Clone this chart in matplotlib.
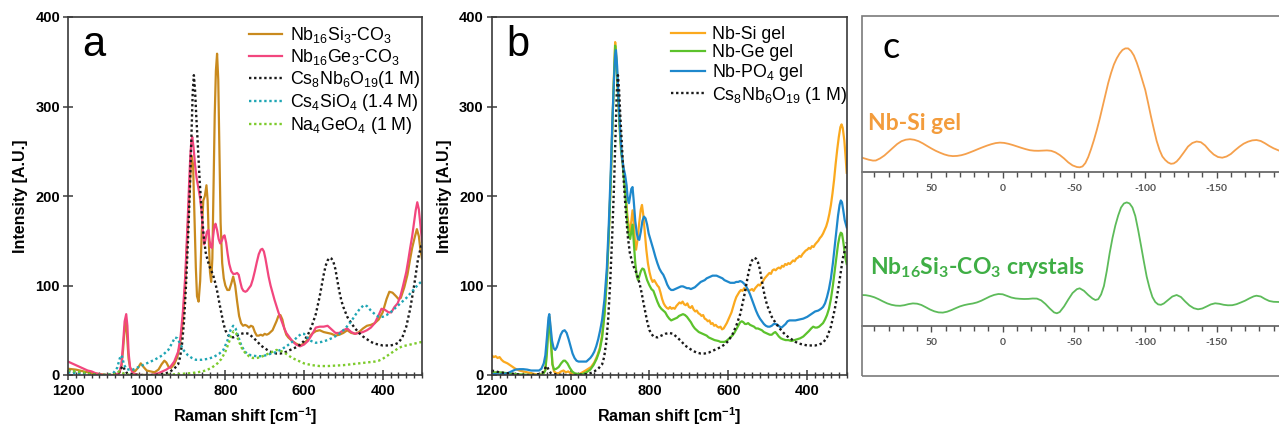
import matplotlib
matplotlib.use("Agg")
import matplotlib.pyplot as plt
from matplotlib.patches import Rectangle
from matplotlib.ticker import MultipleLocator, FixedLocator

plt.rcParams["font.family"] = ["Liberation Sans", "DejaVu Sans"]
plt.rcParams["mathtext.default"] = "regular"
plt.rcParams["axes.unicode_minus"] = False

# ---------------- Panel a: crystals vs. reference solutions ----------------
si_co3_x = [1200,1180,1160,1140,1120,1100,1080,1070,1064,1060,1056,1053,1050,1046,1042,1036,1030,1022,1015,1008,
            1000,990,980,970,962,955,950,944,938,930,922,915,908,902,896,890,886,882,878,875,872,868,864,860,856,
            852,848,845,842,839,836,833,830,827,824,821,818,815,812,808,804,800,795,790,785,780,775,770,765,760,
            755,750,745,740,735,730,725,720,715,710,705,700,695,690,685,680,675,670,665,660,655,650,645,640,635,
            630,620,610,600,590,580,570,560,550,540,530,520,510,500,490,480,470,460,450,440,430,420,410,400,390,
            383,375,366,360,354,345,337,330,325,319,313,308,304,300]
si_co3_y = [7,6,4,2,1,0,0,2,10,28,52,60,45,18,8,5,4,8,13,9,
            5,4,3,6,12,16,14,9,8,12,20,35,60,100,160,215,245,235,170,120,88,82,105,160,195,
            200,212,195,150,115,104,130,210,290,340,359,330,250,170,125,108,100,95,95,102,110,100,82,66,58,
            55,56,55,53,55,54,48,44,44,45,44,46,45,46,48,50,55,60,66,67,62,52,45,42,40,
            38,35,33,35,40,46,49,50,48,47,46,44,45,47,50,47,46,48,52,55,56,58,62,70,85,
            93,92,88,85,86,98,112,130,142,153,163,155,140,130]

ge_co3_x = [1200,1190,1180,1170,1160,1150,1140,1130,1120,1110,1080,1070,1064,1060,1056,1052,1049,1046,1042,1036,
            1030,1020,1000,990,980,970,960,950,940,930,920,914,908,902,896,892,889,886,884,881,877,873,869,865,
            861,857,854,851,847,843,840,837,834,831,828,825,821,817,813,809,805,802,798,794,790,785,780,775,770,
            766,762,758,754,749,745,740,735,730,725,720,715,710,706,702,698,694,690,685,680,675,670,665,660,655,
            650,645,640,635,630,620,610,600,590,580,570,560,550,540,530,520,510,500,490,480,470,460,450,440,430,
            420,410,403,395,385,378,370,362,355,348,340,335,330,325,320,316,312,308,304,300]
ge_co3_y = [15,13,11,9,7,5,4,2,1,0,0,2,12,35,60,68,55,25,8,3,
            1,0,0,0,1,2,4,6,9,15,26,42,70,110,170,215,245,263,266,255,235,220,210,200,
            185,160,146,150,160,162,150,143,142,155,166,169,162,152,147,150,155,156,148,135,124,116,113,113,114,
            112,104,97,94,93,94,97,100,107,116,126,135,140,141,138,130,120,110,100,92,84,77,70,64,58,
            52,47,44,41,38,34,32,34,38,45,53,54,54,55,51,47,47,50,52,48,46,47,48,50,53,
            58,67,74,73,70,70,76,80,88,100,115,128,142,155,171,184,193,185,168,150]

cs8nb6_x = [1200,1180,1160,1140,1120,1100,1080,1070,1064,1060,1056,1050,1040,1020,1000,980,960,950,940,930,
            920,915,910,905,900,895,890,886,883,880,877,874,870,865,860,855,850,845,840,835,830,825,820,815,810,
            805,800,795,790,780,770,760,750,740,730,720,710,700,690,680,670,660,650,640,630,620,610,600,590,580,
            570,560,555,550,545,540,535,530,525,520,515,510,505,500,490,480,470,460,450,440,430,420,410,400,390,
            380,370,360,350,340,330,320,310,300]
cs8nb6_y = [5,3,2,1,0,0,1,3,8,10,6,2,1,0,0,0,1,2,4,7,
            12,20,35,60,100,150,210,270,315,335,318,290,258,215,182,155,137,128,121,116,110,102,92,80,69,
            58,50,46,43,42,44,46,47,46,42,38,33,30,27,25,24,24,25,27,29,31,34,38,45,55,
            68,88,100,112,122,128,131,130,126,118,105,93,83,76,65,58,52,47,43,40,37,35,34,33,33,
            33,34,36,42,54,74,100,130,148]

cs4sio4_x = [1200,1180,1160,1140,1100,1085,1075,1070,1066,1062,1058,1052,1045,1035,1020,1000,980,960,945,935,
             928,922,915,905,895,885,875,860,845,830,815,805,795,787,780,774,768,760,752,745,735,720,705,690,675,
             660,645,630,618,607,600,592,582,570,555,540,525,510,495,480,468,458,448,440,430,420,410,400,390,380,
             370,360,350,340,330,320,310,300]
cs4sio4_y = [3,2,1,0,0,2,8,16,22,20,12,7,6,6,9,13,17,22,28,36,
             42,41,35,27,22,19,17,17,18,20,24,28,38,50,55,52,44,34,27,24,22,21,21,23,25,
             28,32,37,42,46,46,42,38,36,37,39,42,46,52,60,68,74,78,77,72,68,65,65,67,70,
             74,78,82,86,91,96,101,105]

na4geo4_x = [1200,1180,1160,1140,1120,1100,1080,1070,1065,1055,1040,1000,960,920,890,870,850,835,820,810,
             800,792,785,779,773,766,758,750,740,730,720,710,700,690,680,670,660,650,640,630,620,610,600,590,580,
             570,560,540,520,500,480,460,440,420,410,400,390,380,370,360,350,340,330,320,310,300]
na4geo4_y = [5,4,3,1,0,0,1,4,3,1,0,0,0,1,2,3,5,8,13,18,
             26,35,44,49,47,38,30,25,21,19,19,20,22,24,26,28,27,25,22,19,17,15,13,12,11,
             10.5,10,10,10.5,11,12,13,14,15,16,18,21,24,27,30,32,33,34,35,36,37]

# ---------------- Panel b: gels ----------------
nbsi_gel_x = [1200,1195,1190,1185,1180,1175,1170,1165,1160,1150,1140,1130,1120,1110,1100,1090,1080,1070,1064,1060,
              1056,1053,1050,1046,1042,1036,1030,1024,1018,1012,1006,1000,992,985,978,970,962,955,948,940,932,926,
              920,914,908,903,898,894,890,887,884,880,876,872,868,864,860,856,852,849,846,843,840,837,834,830,826,
              822,819,816,812,808,804,800,796,792,788,784,780,776,772,768,764,760,756,752,748,744,740,736,732,728,
              724,720,716,712,708,704,700,696,692,688,684,680,676,672,668,664,660,656,652,648,644,640,636,632,628,
              624,620,616,612,608,604,600,596,592,588,584,580,576,572,568,564,560,556,552,548,544,540,536,532,528,
              524,520,516,512,508,504,500,496,492,488,484,480,476,472,468,464,460,456,452,448,444,440,436,432,428,
              424,420,416,412,408,404,400,396,392,388,384,380,376,372,368,364,360,356,352,348,344,340,336,332,328,
              324,320,316,313,310,306,303,300]
nbsi_gel_y = [22,20,21,19,20,17,15,14,13,10,7,5,4,3,2,1,0,1,6,30,
              60,65,40,12,4,2,2,4,5,3,4,2,1,0,1,3,5,7,9,14,22,30,
              45,70,110,160,220,280,335,372,355,320,285,255,240,220,200,178,165,160,172,184,172,150,140,152,170,
              185,190,180,160,140,125,115,108,104,106,103,100,98,92,85,80,77,75,74,76,74,75,74,77,79,
              81,80,82,79,78,80,76,75,77,73,71,72,69,68,66,67,63,62,60,61,57,58,55,56,54,
              53,54,51,52,55,58,62,66,70,76,82,87,90,93,95,94,97,95,96,94,95,96,94,97,99,
              101,100,103,105,108,110,112,114,113,117,118,117,119,120,119,122,121,124,123,125,124,126,128,127,130,
              131,133,132,135,137,139,140,142,141,144,143,146,148,150,153,155,158,162,166,172,180,190,203,218,236,
              252,266,277,280,276,262,245,226]

nbge_gel_x = [1200,1180,1160,1140,1120,1100,1080,1070,1064,1060,1056,1053,1050,1046,1042,1036,1030,1024,1018,1014,
              1008,1002,996,990,980,970,960,950,942,934,926,920,914,908,903,898,894,890,887,884,880,876,872,868,864,
              860,856,852,849,846,843,840,836,832,829,826,822,818,814,810,806,800,795,790,785,780,775,770,765,760,
              755,750,745,740,735,730,725,720,715,710,705,700,695,690,685,680,675,670,665,660,655,650,645,640,635,
              630,625,620,615,610,605,600,595,590,585,580,575,570,566,562,558,554,550,545,540,535,530,525,520,515,
              510,505,500,495,490,485,481,477,472,467,462,455,448,440,432,425,418,410,403,396,390,385,380,375,370,
              365,360,355,350,345,340,335,330,326,322,318,315,312,309,306,303,300]
nbge_gel_y = [3,3,2,1,0.5,0,0,1,5,25,55,60,38,12,6,7,9,13,16,16,
              13,8,4,2,1,1,3,6,11,18,28,42,68,108,158,218,278,332,368,352,315,278,250,236,215,
              195,170,155,152,160,168,150,125,110,106,110,116,119,118,112,106,100,96,94,88,82,77,74,72,70,
              66,63,61,62,63,64,66,67,68,67,65,62,59,55,52,50,48,47,46,45,44,42,41,40,39,
              38.5,38,37,37,37,38,40,42,44,47,51,55,59,60,59,57,57,58,56,55,54,52,52,51,50,
              48,47,46,45,45,47,48,46,43,41,40,39,39,38,39,40,41,43,46,49,52,54,53,53,54,
              56,58,62,67,74,85,100,118,133,146,155,159,158,150,140,130,124]

nbpo4_gel_x = [1200,1190,1180,1170,1160,1150,1140,1130,1120,1110,1100,1090,1080,1074,1068,1064,1060,1056,1054,1051,
               1047,1043,1039,1035,1030,1025,1020,1015,1010,1005,1000,995,990,985,980,970,960,955,950,945,940,935,
               930,925,920,914,908,903,898,894,890,887,885,882,878,874,870,866,862,858,855,852,849,846,843,840,836,
               832,829,826,822,818,814,810,806,802,798,794,790,785,780,775,770,765,760,755,750,745,740,735,730,725,
               720,715,710,705,700,695,690,685,680,675,670,665,660,655,650,645,640,635,630,625,620,615,610,605,600,
               595,590,585,580,575,570,565,560,555,550,545,540,535,530,525,520,515,510,505,500,495,490,485,480,475,
               470,465,460,455,450,445,440,430,420,410,400,390,380,372,365,360,355,350,345,340,335,330,326,322,318,
               315,312,309,305,300]
nbpo4_gel_y = [1,1,0.5,1,2,4,6,6.5,6.5,6,5,5,5,7,13,22,42,64,68,55,
               38,30,28,31,38,45,49,50,47,40,32,24,19,16,15,15,15,17,19,22,26,32,
               40,50,62,85,120,170,230,285,330,358,363,345,305,270,245,232,224,212,196,192,200,208,210,195,172,
               158,152,151,160,172,177,175,168,158,152,146,140,132,125,119,115,112,107,101,97,95,95,96,97,98,
               99,99,98,97,97,96,97,98,100,102,104,105,106,108,109,110,111,111,111,110,109,108,106,105,104,
               103,103,103,104,104,105,104,102,99,95,90,84,78,72,67,63,60,57,55,54,54,55,57,57,56,
               54,53,55,57,60,61,61,61,62,63,65,68,71,72,74,76,80,87,96,108,125,145,162,178,190,
               195,193,185,173,165]

# ---------------- Panel c: NMR spectra (chemical shift in ppm) ----------------
gel_ppm = [99,97,94,91,89,86,83,80,77,74,71,68,65,62,59,56,53,50,47,44,41,38,35,32,29,26,23,20,17,14,11,8,5,2,
           -1,-4,-7,-10,-13,-16,-19,-22,-25,-28,-31,-34,-37,-40,-43,-46,-49,-52,-54,-56,-58,-60,-62,-64,-66,-68,
           -70,-72,-74,-76,-78,-80,-82,-84,-86,-88,-90,-92,-94,-96,-98,-100,-102,-104,-106,-108,-110,-112,-114,
           -116,-118,-120,-122,-124,-127,-130,-133,-136,-139,-142,-145,-148,-151,-154,-157,-160,-163,-166,-169,
           -172,-175,-178,-181,-184,-187,-190,-194]
gel_int = [14.5,13.6,12.3,11.4,11.5,13.6,16.5,20.3,24.2,28,30.8,32.3,32.8,32.2,30.8,28.6,26,23.5,21.2,19.3,17.6,
           16.4,15.9,16.1,16.8,18,19.6,21.3,23.1,24.8,26.4,27.8,28.9,29.4,29.1,28.2,27,25.6,24.2,22.9,21.8,21.3,
           21.2,21.4,21.6,21.2,19.6,17,13.6,9.6,6.6,5,4.7,5.6,9,15,23,32,42,53,65,77,89,99,107.5,113.7,118.5,122,
           123.6,123.6,121,116.5,109.5,101,91.5,82,69,55.5,43,31,22,15.5,12,9.5,8.2,8.6,10.5,13.7,19.5,25.5,29,
           30.5,29.8,26.5,21.5,17.5,15,14.3,15.5,18,21.8,25.3,28.3,30.3,31.6,32,31,28.7,26,23.7,21.3]

cryst_ppm = [99,96,93,90,87,84,81,78,75,72,69,66,63,60,57,54,51,48,45,42,39,36,33,30,27,24,21,18,15,12,9,6,3,0,
             -3,-6,-9,-12,-15,-18,-21,-24,-27,-30,-33,-36,-38,-40,-43,-46,-49,-52,-54,-57,-60,-63,-65,-67,-69,
             -71,-73,-75,-77,-79,-81,-83,-85,-87,-89,-91,-93,-95,-97,-99,-101,-103,-105,-107,-109,-111,-113,-116,
             -119,-122,-125,-128,-131,-134,-137,-140,-143,-146,-149,-152,-155,-158,-161,-164,-167,-170,-173,-176,
             -178,-181,-184,-187,-190,-194]
cryst_int = [31,30.8,30,28.7,26.8,24.6,22.6,21.2,20.4,20.2,20.8,21.9,22.6,22.3,21,18.8,16.5,14.7,13.6,13.4,14.3,
             15.9,17.8,19.6,20.9,21.8,22.5,23.6,25.3,27.4,29.5,31.1,32,31.7,30.1,28.5,27.6,27.2,27,27.1,27.5,27.4,
             25.6,22,17.5,13.6,12.7,14,19.5,26.5,33,36.8,37.7,35.2,31,27.5,26,26.8,31.5,40,55,72.7,88,100.5,110.5,
             118.5,122.5,123.6,122.5,118.5,110,96,80.5,64.5,49.3,38,29,24,21.6,21.2,22.5,26,29.5,31,29,24.5,20.5,
             17.8,16.7,17.5,19.5,21.6,22.7,22.2,21.2,20.7,20.8,21.8,23.5,25.3,27.6,29.6,30.3,29.5,27,25,24.2,24]

W, H = 1279, 429
fig = plt.figure(figsize=(W / 100, H / 100), dpi=100)


def fig_rect(x0, y0, x1, y1):
    return [x0 / W, 1 - y1 / H, (x1 - x0) / W, (y1 - y0) / H]


spine_col = "#3a3a3a"
dots = (0, (1, 1.15))


def style_raman(ax, letter):
    ax.set_xlim(1200, 300)
    ax.set_ylim(0, 400)
    ax.xaxis.set_major_locator(FixedLocator([1200, 1000, 800, 600, 400]))
    ax.xaxis.set_minor_locator(MultipleLocator(20))
    ax.yaxis.set_major_locator(MultipleLocator(100))
    for s in ax.spines.values():
        s.set_color(spine_col)
        s.set_linewidth(1.2)
    ax.tick_params(axis="both", which="major", direction="inout", length=7.5, width=1.1,
                   color=spine_col, labelsize=10.5, pad=2)
    ax.tick_params(axis="x", which="minor", direction="inout", length=5, width=1.0, color=spine_col)
    ax.tick_params(axis="x", which="major", pad=3)
    for lab in ax.get_xticklabels() + ax.get_yticklabels():
        lab.set_fontweight("bold")
    ax.set_xlabel(r"Raman shift [cm$^{-1}$]", fontsize=11.5, fontweight="bold", labelpad=5)
    ax.set_ylabel("Intensity [A.U.]", fontsize=11.5, fontweight="bold", labelpad=5)
    ax.text(0.04, 0.892, letter, transform=ax.transAxes, fontsize=30, va="baseline", ha="left")


# Panel a
ax_a = fig.add_axes(fig_rect(68, 17, 422, 375))
ax_a.plot(si_co3_x, si_co3_y, color="#C98A1E", lw=1.6, label=r"Nb$_{16}$Si$_3$-CO$_3$")
ax_a.plot(ge_co3_x, ge_co3_y, color="#F2467E", lw=1.6, label=r"Nb$_{16}$Ge$_3$-CO$_3$")
ax_a.plot(cs8nb6_x, cs8nb6_y, color="#1a1a1a", lw=1.7, ls=dots, label=r"Cs$_8$Nb$_6$O$_{19}$(1 M)")
ax_a.plot(cs4sio4_x, cs4sio4_y, color="#1FA6B4", lw=1.7, ls=dots, label=r"Cs$_4$SiO$_4$ (1.4 M)")
ax_a.plot(na4geo4_x, na4geo4_y, color="#7DCB2C", lw=1.7, ls=dots, label=r"Na$_4$GeO$_4$ (1 M)")
style_raman(ax_a, "a")
ax_a.legend(loc="upper left", bbox_to_anchor=(0.51, 0.978), frameon=False, fontsize=12.8,
            handlelength=1.9, handletextpad=0.42, labelspacing=0.12, borderpad=0, borderaxespad=0)

# Panel b
ax_b = fig.add_axes(fig_rect(491.7, 17, 846.7, 375))
ax_b.plot(nbsi_gel_x, nbsi_gel_y, color="#FBA91E", lw=1.6, label="Nb-Si gel")
ax_b.plot(nbge_gel_x, nbge_gel_y, color="#5CC22C", lw=1.6, label="Nb-Ge gel")
ax_b.plot(nbpo4_gel_x, nbpo4_gel_y, color="#1E88CC", lw=1.6, label=r"Nb-PO$_4$ gel")
ax_b.plot(cs8nb6_x, cs8nb6_y, color="#1a1a1a", lw=1.7, ls=dots, label=r"Cs$_8$Nb$_6$O$_{19}$ (1 M)")
style_raman(ax_b, "b")
ax_b.legend(loc="upper left", bbox_to_anchor=(0.505, 0.975), frameon=False, fontsize=12.8,
            handlelength=1.9, handletextpad=0.42, labelspacing=0.07, borderpad=0, borderaxespad=0)

# Panel c: framed NMR spectra
frame = Rectangle((862 / W, 1 - 376 / H), (1300 - 862) / W, 360 / H, transform=fig.transFigure,
                  fill=False, edgecolor="#7a7a7a", lw=1.2, clip_on=False)
fig.patches.append(frame)


def style_nmr(ax, top):
    ax.set_xlim(98.7, -193.8)
    ax.set_ylim(0, top)
    for side in ("top", "left", "right"):
        ax.spines[side].set_visible(False)
    ax.spines["bottom"].set_color("#505050")
    ax.spines["bottom"].set_linewidth(1.1)
    ax.patch.set_alpha(0)
    ax.set_yticks([])
    ax.xaxis.set_major_locator(FixedLocator([50, 0, -50, -100, -150]))
    ax.xaxis.set_minor_locator(MultipleLocator(10))
    ax.tick_params(axis="x", which="major", direction="out", length=4.5, width=1.0, color="#505050",
                   labelsize=7.5, labelcolor="#555555", pad=4)
    ax.tick_params(axis="x", which="minor", direction="out", length=3.5, width=1.0, color="#505050")
    for lab in ax.get_xticklabels():
        lab.set_fontweight("bold")
        lab.set_family(["Lato", "DejaVu Sans"])


ax_c1 = fig.add_axes(fig_rect(862, 20, 1279, 172))
ax_c1.plot(gel_ppm, gel_int, color="#F5A04C", lw=1.3)
style_nmr(ax_c1, 152)

ax_c2 = fig.add_axes(fig_rect(862, 180, 1279, 326))
ax_c2.plot(cryst_ppm, cryst_int, color="#5DBB5A", lw=1.3)
style_nmr(ax_c2, 146)

fig.text(882 / W, 1 - 58 / H, "c", fontsize=26, family=["Lato", "DejaVu Sans"], va="baseline", ha="left")
fig.text(868 / W, 1 - 130 / H, "Nb-Si gel", fontsize=16.5, fontweight="bold", color="#F39C3C",
         family=["Lato", "DejaVu Sans"], va="baseline", ha="left")
fig.text(870 / W, 1 - 274 / H, r"Nb$_{16}$Si$_3$-CO$_3$ crystals", fontsize=16.5, fontweight="bold",
         color="#3FAE45", family=["Lato", "DejaVu Sans"], va="baseline", ha="left")

fig.savefig("out.png", dpi=100)
